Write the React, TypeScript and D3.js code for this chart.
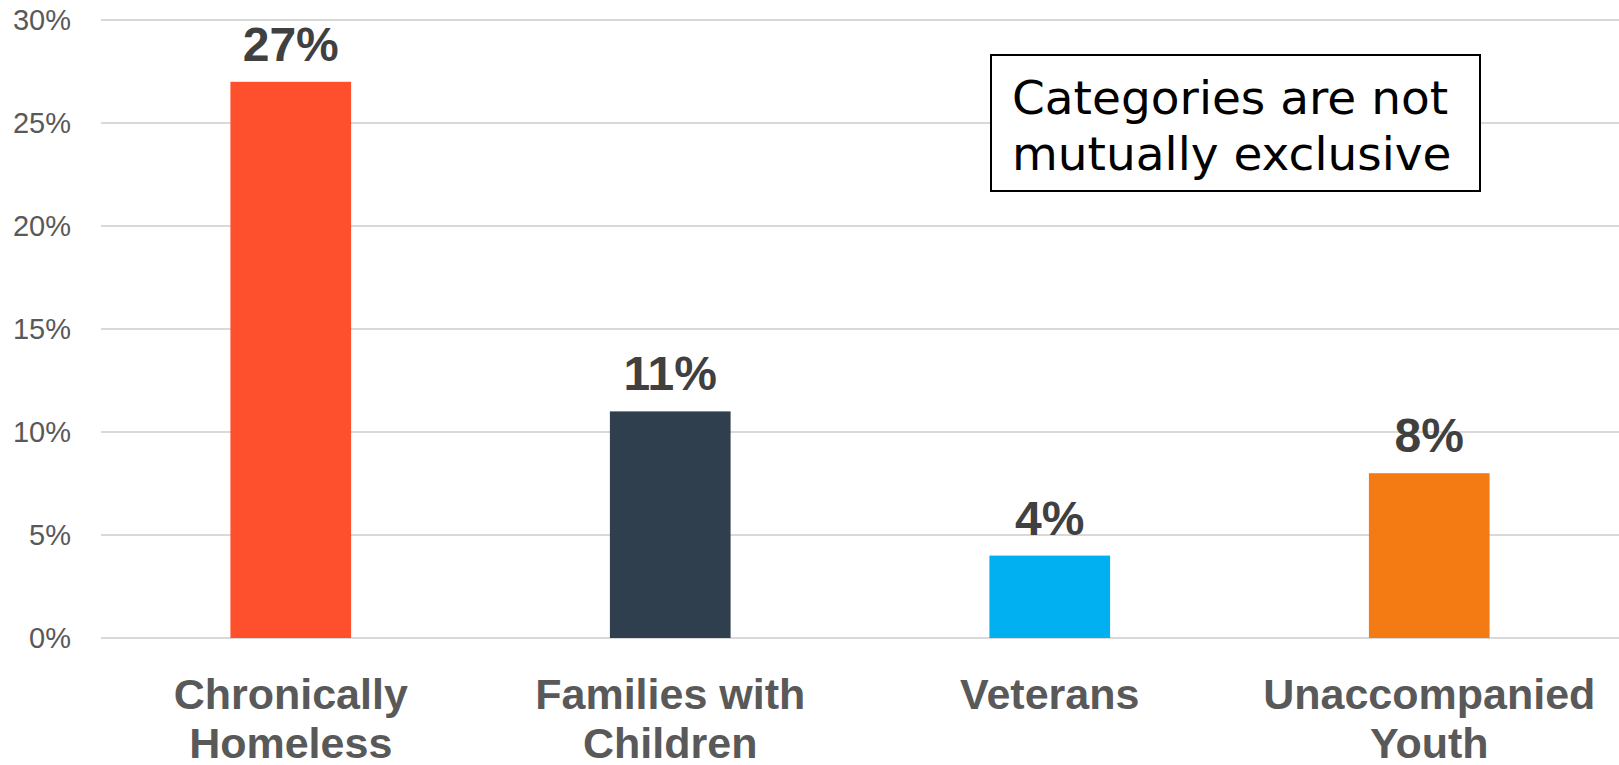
import * as d3 from 'd3';

const categories = [['Chronically', 'Homeless'], ['Families with', 'Children'], ['Veterans'], ['Unaccompanied', 'Youth']];
const values = [27, 11, 4, 8];
const barColors = ['#FF502D', '#2F3F4E', '#00B0F0', '#F47A14'];
const yTicks = [0, 5, 10, 15, 20, 25, 30];
const note = ['Categories are not', 'mutually exclusive'];

const W = 1619;
const H = 765;
const margin = { left: 101, right: 0, top: 20, bottom: 127 };

export default function App() {
  const x = d3
    .scaleBand<number>()
    .domain(values.map((_, i) => i))
    .range([margin.left, W - margin.right])
    .paddingInner(0.682)
    .paddingOuter(0.341);
  const y = d3.scaleLinear().domain([0, 30]).range([H - margin.bottom, margin.top]);

  return (
    <svg width={W} height={H} style={{ position: 'absolute', left: 0, top: 0, background: '#fff' }}>
      {/* gridlines + y labels */}
      {yTicks.map((t) => (
        <g key={t}>
          <line x1={margin.left} x2={W - margin.right} y1={y(t)} y2={y(t)} stroke="#D9D9D9" strokeWidth={2} />
          <text
            x={71}
            y={y(t)}
            dy="0.36em"
            textAnchor="end"
            fontFamily="Liberation Sans, Arial, sans-serif"
            fontSize={29}
            fill="#595959"
          >
            {t}%
          </text>
        </g>
      ))}

      {/* bars */}
      {values.map((v, i) => (
        <g key={i}>
          <rect x={x(i)} y={y(v)} width={x.bandwidth()} height={y(0) - y(v)} fill={barColors[i]} />
          <text
            x={(x(i) ?? 0) + x.bandwidth() / 2}
            y={y(v) - 21}
            textAnchor="middle"
            fontFamily="Liberation Sans, Arial, sans-serif"
            fontWeight="bold"
            fontSize={48}
            fill="#404040"
          >
            {v}%
          </text>
          <text
            textAnchor="middle"
            fontFamily="Liberation Sans, Arial, sans-serif"
            fontWeight="bold"
            fontSize={43}
            fill="#595959"
          >
            {categories[i].map((line, j) => (
              <tspan key={j} x={(x(i) ?? 0) + x.bandwidth() / 2} y={709 + j * 49}>
                {line}
              </tspan>
            ))}
          </text>
        </g>
      ))}

      {/* note box */}
      <rect x={991} y={55} width={489} height={136} fill="#fff" stroke="#000" strokeWidth={2} />
      <text fontFamily="DejaVu Sans, sans-serif" fontSize={47} fill="#000">
        {note.map((line, j) => (
          <tspan key={j} x={1012} y={114 + j * 56}>
            {line}
          </tspan>
        ))}
      </text>
    </svg>
  );
}
